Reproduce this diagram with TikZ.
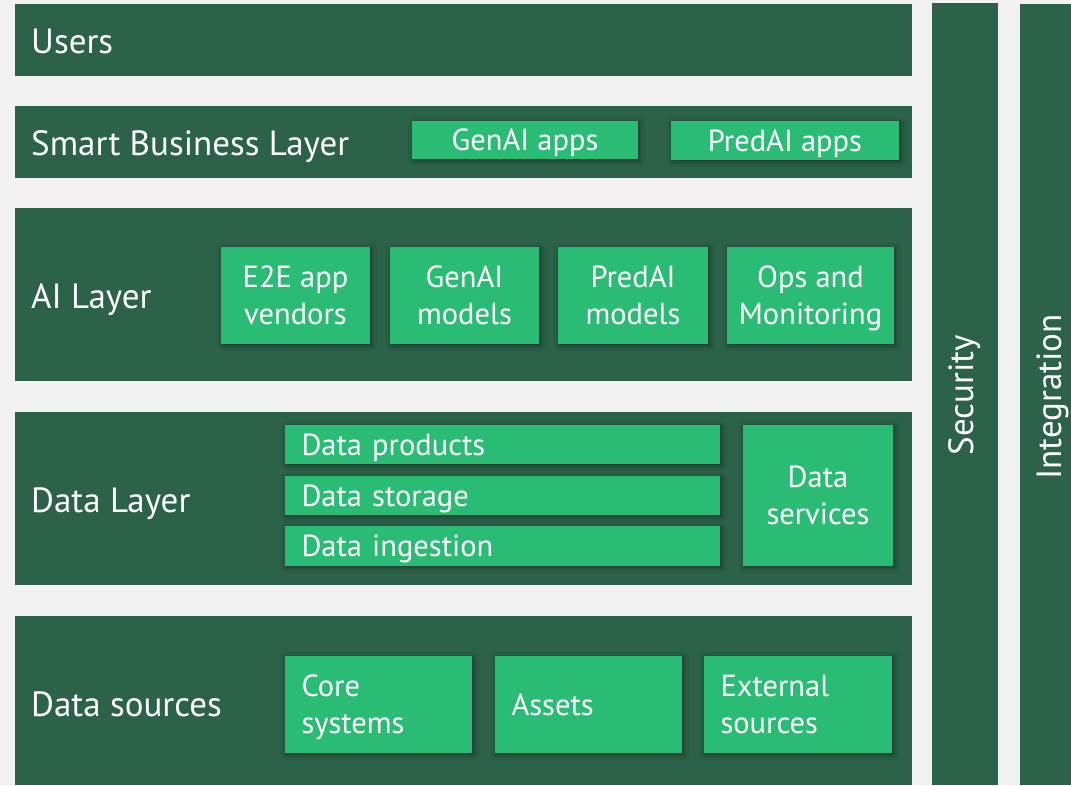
\documentclass[tikz,border=0pt]{standalone}
\usepackage{fontspec}
\setmainfont{PT Sans}
\usetikzlibrary{shadows.blur}
\definecolor{pagebg}{HTML}{F2F2F2}
\definecolor{bandgreen}{HTML}{2C6249}
\definecolor{tilegreen}{HTML}{2ABB74}
\tikzset{
  bandbox/.style={fill=bandgreen, draw=none, inner sep=0pt, outer sep=0pt, anchor=north west},
  bandlabel/.style={text=white, inner sep=0pt, anchor=base west, font=\fontsize{35}{40}\selectfont},
  sidelabel/.style={text=white, inner sep=0pt, rotate=90, font=\fontsize{35}{40}\selectfont},
  tile/.style={fill=tilegreen, draw=none, text=white, inner sep=0pt, outer sep=0pt, anchor=north west,
    align=center, text depth=0pt, font=\fontsize{30.5}{37}\selectfont,
    blur shadow={shadow xshift=1.5pt, shadow yshift=-1.5pt, shadow blur radius=5pt, shadow blur steps=6, shadow opacity=45}},
  lefttile/.style={tile, align=left, inner xsep=16.5pt},
  % two-line left-aligned tiles: depth below the first baseline is one line
  twolinetile/.style={lefttile, text depth=37pt}
}
\begin{document}
\begin{tikzpicture}[x=1pt, y=-1pt]
  % page background and frame
  \fill[pagebg] (0,0) rectangle (1071,785);
  \useasboundingbox (0,0) rectangle (1071,785);

  % horizontal layer bands
  \node[bandbox, minimum width=897pt, minimum height=72pt]  (users)   at (15,4)   {};
  \node[bandbox, minimum width=897pt, minimum height=72pt]  (smart)   at (15,106) {};
  \node[bandbox, minimum width=897pt, minimum height=173pt] (ailayer) at (15,208) {};
  \node[bandbox, minimum width=897pt, minimum height=173pt] (datalay) at (15,412) {};
  \node[bandbox, minimum width=897pt, minimum height=169pt] (sources) at (15,616) {};

  % vertical cross-cutting columns
  \node[bandbox, minimum width=66pt, minimum height=782pt] (security)    at (932,3)  {};
  \node[bandbox, minimum width=60pt, minimum height=781pt] (integration) at (1020,4) {};

  % layer captions
  \node[bandlabel] (usersL)   at (31,53)  {Users};
  \node[bandlabel] (smartL)   at (31,155) {Smart Business Layer};
  \node[bandlabel] (aiL)      at (31,308) {AI Layer};
  \node[bandlabel] (dataL)    at (31,512) {Data Layer};
  \node[bandlabel] (sourcesL) at (31,716) {Data sources};
  \node[sidelabel] (securityL)    at (965,395)  {Security};
  \node[sidelabel] (integrationL) at (1053,397) {Integration};

  % smart business layer
  \node[tile, minimum width=226pt, minimum height=38pt] (genaiapps)  at (412,121) {GenAI apps};
  \node[tile, minimum width=228pt, minimum height=39pt] (predaiapps) at (671,121) {PredAI apps};

  % AI layer
  \node[tile, minimum width=149pt, minimum height=97pt] (e2e)       at (221,247) {E2E app\\vendors};
  \node[tile, minimum width=149pt, minimum height=97pt] (genaimod)  at (390,247) {GenAI\\models};
  \node[tile, minimum width=150pt, minimum height=97pt] (predaimod) at (558,247) {PredAI\\models};
  \node[tile, minimum width=167pt, minimum height=97pt] (ops)       at (727,247) {Ops and\\Monitoring};

  % data layer
  \node[lefttile, text width=402pt, minimum height=39pt] (products)  at (285,425) {Data products};
  \node[lefttile, text width=402pt, minimum height=39pt] (storage)   at (285,476) {Data storage};
  \node[lefttile, text width=402pt, minimum height=40pt] (ingestion) at (285,526) {Data ingestion};
  \node[tile, minimum width=150pt, minimum height=141pt] (services)  at (743,425) {Data\\services};

  % data sources
  \node[twolinetile, text width=154pt, minimum height=97pt] (core)     at (285,656) {Core\\systems};
  \node[lefttile,    text width=154pt, minimum height=97pt] (assets)   at (495,656) {Assets};
  \node[twolinetile, text width=155pt, minimum height=97pt] (external) at (704,656) {External\\sources};
\end{tikzpicture}
\end{document}
